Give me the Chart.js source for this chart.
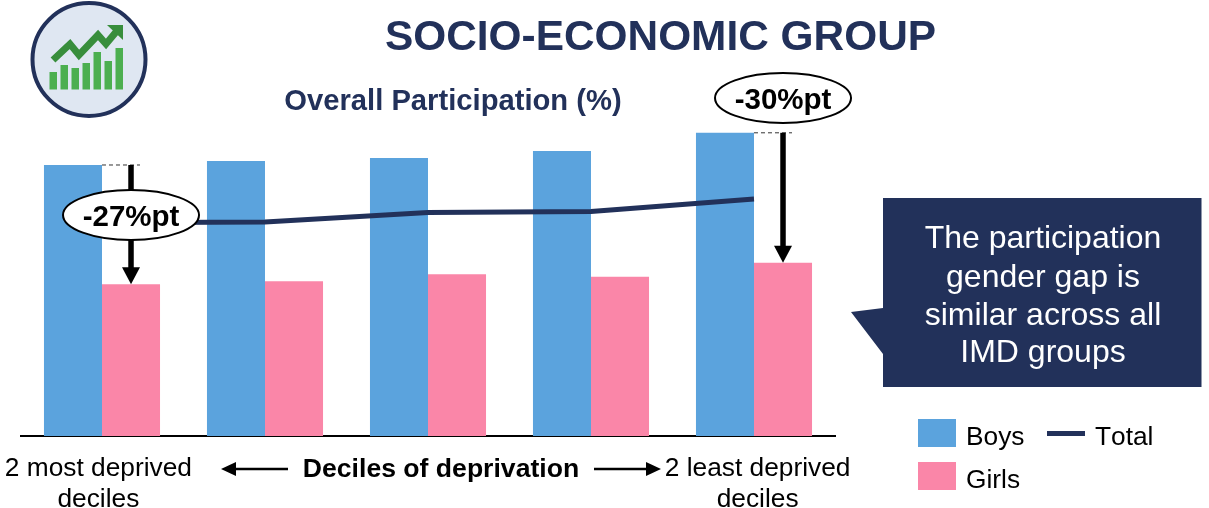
<!DOCTYPE html>
<html>
<head>
<meta charset="utf-8">
<title>Socio-economic group</title>
<script src="https://cdn.jsdelivr.net/npm/chart.js@4"></script>
<style>
  html, body { margin: 0; padding: 0; background: #fff; }
  #page { position: relative; width: 1209px; height: 508px; overflow: hidden; font-family: "Liberation Sans", Arial, sans-serif; }
  #chart { position: absolute; left: 0; top: 0; }
  .txt { position: absolute; white-space: nowrap; transform: translate(-50%, -50%); }
  .title { left: 660.5px; top: 36px; font-size: 42.4px; font-weight: bold; color: #22315a; }
  .sub { left: 453px; top: 100px; font-size: 29.2px; font-weight: bold; color: #22315a; }
  .axis { left: 441px; top: 468px; font-size: 26.6px; font-weight: bold; color: #000; }
  .note { left: 1043px; font-size: 32px; color: #fff; }
  .leg { font-size: 26.3px; color: #000; font-kerning: none; }
  .swatch { position: absolute; width: 38px; height: 28px; }
  .leg-line { position: absolute; width: 38px; height: 5px; }
  svg { position: absolute; left: 0; top: 0; }
</style>
</head>
<body>
<div id="page">
  <canvas id="chart" width="1209" height="508"></canvas>

  <svg width="1209" height="508">
    <!-- icon -->
    <circle cx="89" cy="59.5" r="56.5" fill="#dfe7f2" stroke="#22315a" stroke-width="4"/>
    <g fill="#4caf50">
      <rect x="49.5" y="72" width="7.5" height="17.5"/>
      <rect x="60.5" y="65" width="7.5" height="24.5"/>
      <rect x="71.5" y="68" width="7.5" height="21.5"/>
      <rect x="82.5" y="63" width="7.5" height="26.5"/>
      <rect x="93.5" y="52" width="7.5" height="37.5"/>
      <rect x="104.5" y="61" width="7.5" height="28.5"/>
      <rect x="115.5" y="48" width="7.5" height="41.5"/>
    </g>
    <polyline points="53,60 70,44 79,55 98,35 106,44 116,32" fill="none" stroke="#388e3c" stroke-width="7"/>
    <polygon points="107,25 123,25 123,40" fill="#388e3c"/>
    <!-- callout -->
    <polygon points="883,198 1201.5,198 1201.5,387 883,387 883,354 851,312 883,308" fill="#22315a"/>
    <!-- direction arrows -->
    <g stroke="#000" stroke-width="2.5">
      <line x1="288" y1="469" x2="232" y2="469"/>
      <line x1="594" y1="469" x2="650" y2="469"/>
    </g>
    <polygon points="221,469 236,462 236,476" fill="#000"/>
    <polygon points="661,469 646,462 646,476" fill="#000"/>
  </svg>

  <div class="txt title">SOCIO-ECONOMIC GROUP</div>
  <div class="txt sub">Overall Participation (%)</div>
  <div class="txt axis">Deciles of deprivation</div>
  <div class="txt note" style="top:237px">The participation</div>
  <div class="txt note" style="top:276px">gender gap is</div>
  <div class="txt note" style="top:314px">similar across all</div>
  <div class="txt note" style="top:351px">IMD groups</div>

  <div id="legend"></div>
</div>

<script>
const categories = [
  ['2 most deprived', 'deciles'],
  '', '', '',
  ['2 least deprived', 'deciles']
];
const boys = [62.3, 63.2, 63.9, 65.5, 69.7];
const girls = [34.9, 35.6, 37.2, 36.6, 39.8];
const total = [49.0, 49.2, 51.4, 51.6, 54.5];
const gapLabels = ['-27%pt', '', '', '', '-30%pt'];
const gapLabelY = [215, 0, 0, 0, 98];

const BLUE = '#5ba3dd';
const PINK = '#fa86a8';
const NAVY = '#22315a';
const FONT = '"Liberation Sans", Arial, sans-serif';

// gap arrows and the ellipses on top of them
const gapPlugin = {
  id: 'gaps',
  afterDatasetsDraw(chart) {
    const ctx = chart.ctx;
    const y = chart.scales.y;
    const boyBars = chart.getDatasetMeta(0).data;
    const girlBars = chart.getDatasetMeta(1).data;
    gapLabels.forEach((label, i) => {
      if (!label) return;
      const x = girlBars[i].x;
      const top = y.getPixelForValue(boys[i]);
      const bottom = y.getPixelForValue(girls[i]);
      ctx.save();
      // dashed level line
      ctx.strokeStyle = '#333';
      ctx.lineWidth = 1;
      ctx.setLineDash([4, 3]);
      ctx.beginPath();
      ctx.moveTo(boyBars[i].x + 29, top);
      ctx.lineTo(x + 9, top);
      ctx.stroke();
      ctx.setLineDash([]);
      // arrow
      ctx.strokeStyle = '#000';
      ctx.lineWidth = 5.5;
      ctx.beginPath();
      ctx.moveTo(x, top);
      ctx.lineTo(x, bottom - 14);
      ctx.stroke();
      ctx.fillStyle = '#000';
      ctx.beginPath();
      ctx.moveTo(x - 9, bottom - 17);
      ctx.lineTo(x + 9, bottom - 17);
      ctx.lineTo(x, bottom);
      ctx.closePath();
      ctx.fill();
      // ellipse label
      ctx.beginPath();
      ctx.ellipse(x, gapLabelY[i], 68, 25, 0, 0, Math.PI * 2);
      ctx.fillStyle = '#fff';
      ctx.fill();
      ctx.lineWidth = 2;
      ctx.stroke();
      ctx.fillStyle = '#000';
      ctx.font = 'bold 29.5px ' + FONT;
      ctx.textAlign = 'center';
      ctx.textBaseline = 'middle';
      ctx.fillText(label, x, gapLabelY[i] + 3);
      ctx.restore();
    });
  }
};

new Chart(document.getElementById('chart'), {
  type: 'bar',
  data: {
    labels: categories,
    datasets: [
      { label: 'Boys', data: boys, backgroundColor: BLUE, order: 2 },
      { label: 'Girls', data: girls, backgroundColor: PINK, order: 2 },
      {
        type: 'line', label: 'Total', data: total,
        borderColor: NAVY, borderWidth: 5, pointRadius: 0, tension: 0, order: 1
      }
    ]
  },
  options: {
    responsive: false,
    animation: false,
    layout: { padding: { left: 20.5, right: 373.5, top: 88, bottom: 0 } },
    datasets: { bar: { barPercentage: 1, categoryPercentage: 0.712 } },
    plugins: { legend: { display: false }, tooltip: { enabled: false } },
    scales: {
      x: {
        // keep the wide end labels from squeezing the plot
        afterFit(scale) {
          scale.height = 72;
          scale.paddingLeft = 0;
          scale.paddingRight = 0;
        },
        grid: { display: false, drawTicks: false },
        border: { display: true, color: '#000', width: 2 },
        ticks: {
          autoSkip: false, maxRotation: 0, minRotation: 0, padding: 18,
          color: '#000',
          font: { family: FONT, size: 26.3, lineHeight: 1.15 },
          // end labels sit a few px outward of their bars
          callback(value, i) {
            const lab = this.getLabelForValue(value);
            if (!Array.isArray(lab)) return lab;
            return lab.map(s => i === 0 ? s + '\u00a0' : '\u00a0' + s);
          }
        }
      },
      y: { display: false, min: 0, max: 80 }
    }
  },
  plugins: [gapPlugin]
});

// legend
const legendItems = [
  { label: 'Boys', color: BLUE, x: 918, y: 433, line: false },
  { label: 'Girls', color: PINK, x: 918, y: 476, line: false },
  { label: 'Total', color: NAVY, x: 1047, y: 433, line: true }
];
document.getElementById('legend').innerHTML = legendItems.map(it => {
  const mark = it.line
    ? `<div class="leg-line" style="left:${it.x}px;top:${it.y - 2.5}px;background:${it.color}"></div>`
    : `<div class="swatch" style="left:${it.x}px;top:${it.y - 14}px;background:${it.color}"></div>`;
  return mark + `<div class="txt leg" style="left:${it.x + 48}px;top:${it.y + 3}px;transform:translateY(-50%)">${it.label}</div>`;
}).join('');
</script>
</body>
</html>
